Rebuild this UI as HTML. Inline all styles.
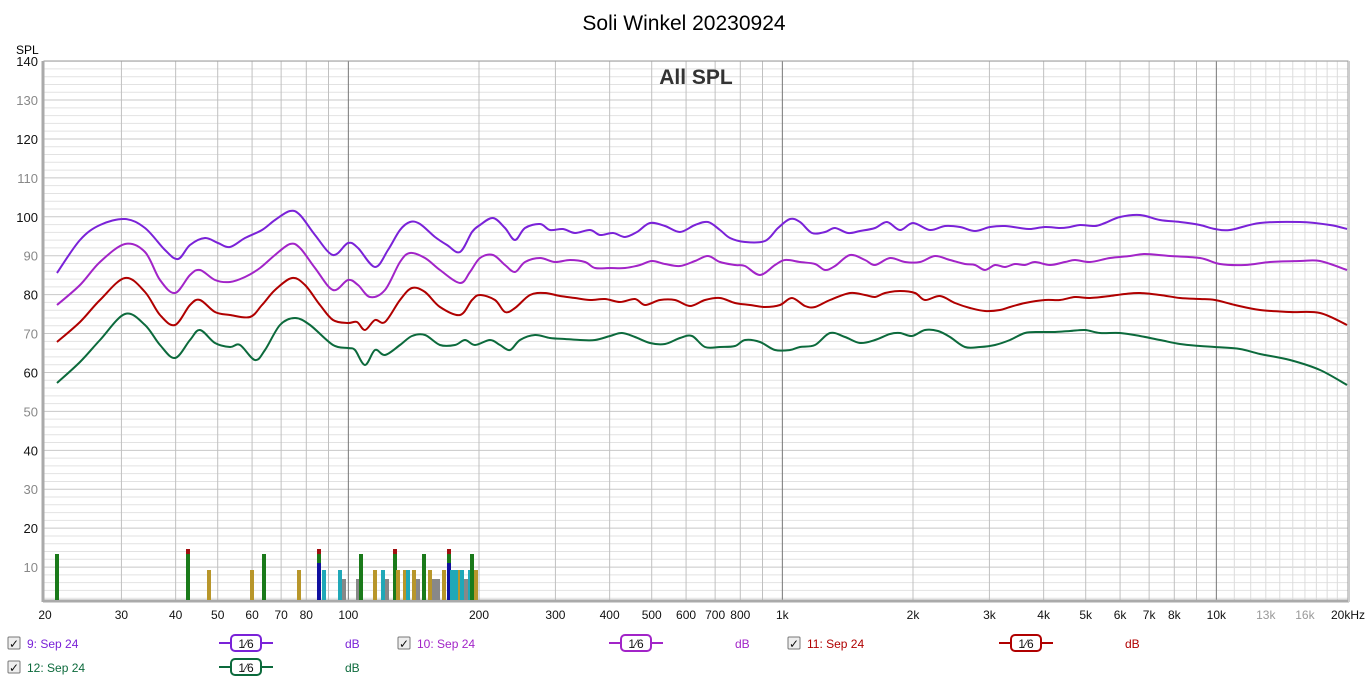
<!DOCTYPE html>
<html><head><meta charset="utf-8"><style>
body{margin:0;background:#fff;width:1369px;height:682px;overflow:hidden;font-family:"Liberation Sans",sans-serif}
svg{position:absolute;left:0;top:0}
</style></head><body>
<svg id="s" width="1369" height="682" xmlns="http://www.w3.org/2000/svg" font-family="Liberation Sans, sans-serif">
<text x="684" y="30" font-size="21" text-anchor="middle">Soli Winkel 20230924</text>
<text x="16" y="54" font-size="12">SPL</text>
<g id="grid"></g>
<text x="696" y="84" font-size="21" font-weight="bold" fill="#333" text-anchor="middle">All SPL</text>
<g id="bars"></g>
<g id="curves" fill="none" stroke-width="2" stroke-linejoin="round"></g>
<g id="legend" font-size="12"></g>
</svg>
<script>
const NS="http://www.w3.org/2000/svg";
function el(p,t,a,txt){const e=document.createElementNS(NS,t);for(const k in a)e.setAttribute(k,a[k]);if(txt!==undefined)e.textContent=txt;p.appendChild(e);return e;}
const X=f=>45+434*Math.log10(f/20), Y=d=>606-3.892*d;
const L=44,R=1348,T=61,B=600;
const g=document.getElementById('grid');
el(g,'rect',{x:L,y:T,width:R-L,height:B-T,fill:'#fff'});
for(let d=2;d<=140;d+=2){const y=Y(d);if(y>B)continue;el(g,'line',{x1:L,x2:R,y1:y,y2:y,stroke:d%10?'#e2e2e2':'#c8c8c8','stroke-width':1});}
const fr=[30,40,50,60,70,80,90,200,300,400,500,600,700,800,900,2000,3000,4000,5000,6000,7000,8000,9000];
fr.forEach(f=>{const x=X(f);el(g,'line',{x1:x,x2:x,y1:T,y2:B,stroke:'#c0c0c0'});});
[11000,12000,13000,14000,15000,16000,17000,18000,19000].forEach(f=>{const x=X(f);el(g,'line',{x1:x,x2:x,y1:T,y2:B,stroke:'#dcdcdc'});});
[100,1000,10000].forEach(f=>{const x=X(f);el(g,'line',{x1:x,x2:x,y1:T,y2:B,stroke:'#777'});});
el(g,'rect',{x:L,y:T,width:R-L,height:B-T,fill:'none',stroke:'#999'});
el(g,'line',{x1:L-1,x2:L-1,y1:T,y2:B+2,stroke:'#aaa','stroke-width':3});
el(g,'line',{x1:L-1,x2:R+1,y1:B+1,y2:B+1,stroke:'#aaa','stroke-width':3});
el(g,'line',{x1:R+1,x2:R+1,y1:T,y2:B+2,stroke:'#ccc','stroke-width':2});
for(let d=10;d<=140;d+=10){el(g,'text',{x:38,y:Y(d)+5,'font-size':13,'text-anchor':'end',fill:(d%20==0)?'#111':'#888'},String(d));}
const xl=[[20,'20'],[30,'30'],[40,'40'],[50,'50'],[60,'60'],[70,'70'],[80,'80'],[100,'100'],[200,'200'],[300,'300'],[400,'400'],[500,'500'],[600,'600'],[700,'700'],[800,'800'],[1000,'1k'],[2000,'2k'],[3000,'3k'],[4000,'4k'],[5000,'5k'],[6000,'6k'],[7000,'7k'],[8000,'8k'],[10000,'10k'],[13000,'13k',1],[16000,'16k',1]];
xl.forEach(a=>el(g,'text',{x:X(a[0]),y:619,'font-size':12,'text-anchor':'middle',fill:a[2]?'#999':'#111'},a[1]));
el(g,'text',{x:1365,y:619,'font-size':12,'text-anchor':'end',fill:'#111'},'20kHz');
// bars
const b=document.getElementById('bars');
const bars=[[57,554,'#1a7a1a'],[188,549,'#1a7a1a',1],[209,570,'#b8962a'],[252,570,'#b8962a'],[264,554,'#1a7a1a'],[299,570,'#b8962a'],[319,549,'#1a7a1a',1,'#1010a0'],[324,570,'#20a8b8'],[340,570,'#20a8b8'],[344,579,'#888'],[358,579,'#888'],[361,570,'#20a8b8'],[361,554,'#1a7a1a'],[375,570,'#b8962a'],[383,570,'#20a8b8'],[387,579,'#888'],[395,549,'#1a7a1a',1],[398,570,'#b8962a'],[405,570,'#b8962a'],[408,570,'#20a8b8'],[414,570,'#b8962a'],[418,579,'#888'],[424,554,'#1a7a1a'],[430,570,'#b8962a'],[434,579,'#888'],[438,579,'#888'],[444,570,'#b8962a'],[449,549,'#1a7a1a',1,'#1010a0'],[452,570,'#20a8b8'],[456,570,'#20a8b8'],[460,570,'#b8962a'],[462,570,'#20a8b8'],[466,579,'#888'],[470,570,'#20a8b8'],[472,554,'#1a7a1a'],[476,570,'#b8962a']];
bars.forEach(a=>{el(b,'rect',{x:a[0]-2,y:a[1],width:4,height:B-a[1],fill:a[2]});if(a[3])el(b,'rect',{x:a[0]-2,y:a[1],width:4,height:5,fill:'#a01010'});if(a[4])el(b,'rect',{x:a[0]-2,y:563,width:4,height:B-563,fill:a[4]});});
// curves
const C={
'#7a22d8':[[57,273],[80,240],[100,225],[125,219],[145,228],[165,250],[178,259],[190,245],[205,238],[218,243],[230,247],[245,238],[262,230],[275,220],[290,211],[300,215],[315,235],[333,255],[348,243],[358,248],[375,267],[388,250],[400,230],[410,222],[420,224],[435,237],[447,245],[460,252],[472,232],[480,225],[493,218],[505,228],[515,240],[525,228],[540,224],[550,230],[563,229],[575,233],[590,230],[600,235],[613,233],[625,237],[637,232],[650,223],[665,226],[680,232],[695,225],[708,222],[720,230],[730,238],[745,242],[765,241],[778,228],[790,219],[800,222],[812,233],[825,232],[835,228],[848,233],[860,231],[875,228],[887,222],[900,230],[913,223],[930,230],[945,226],[960,227],[975,231],[990,227],[1005,226],[1020,228],[1030,229],[1045,227],[1060,228],[1070,227],[1080,225],[1095,226],[1105,223],[1120,217],[1140,215],[1160,220],[1180,222],[1200,225],[1215,229],[1230,230],[1260,223],[1300,222],[1330,225],[1347,229]],
'#a224c8':[[57,305],[80,285],[100,262],[125,244],[145,252],[160,280],[175,293],[190,275],[200,270],[215,280],[230,282],[245,277],[260,268],[275,255],[290,244],[300,248],[315,268],[333,290],[348,280],[358,285],[370,297],[385,290],[400,262],[410,253],[425,258],[440,270],[460,283],[470,272],[480,258],[493,255],[505,265],[515,272],[525,262],[540,258],[555,262],[570,260],[585,262],[595,268],[610,268],[625,268],[640,265],[652,261],[665,264],[680,266],[695,261],[708,256],[720,262],[735,265],[745,266],[760,275],[775,265],[785,260],[800,262],[815,264],[825,270],[835,266],[850,255],[865,260],[875,265],[890,258],[905,262],[920,262],[935,256],[950,260],[965,264],[975,265],[985,270],[995,265],[1005,267],[1015,264],[1025,265],[1035,262],[1050,265],[1065,262],[1075,260],[1090,262],[1110,258],[1130,256],[1145,254],[1170,256],[1200,258],[1220,264],[1245,265],[1270,262],[1300,261],[1320,261],[1347,270]],
'#b00000':[[57,342],[80,322],[100,300],[125,278],[145,292],[160,315],[175,325],[190,305],[200,300],[215,312],[230,315],[250,317],[262,305],[275,290],[292,278],[305,285],[320,305],[333,320],[348,323],[357,322],[365,330],[375,320],[385,322],[400,300],[412,288],[425,292],[440,307],[460,315],[472,300],[480,295],[495,300],[505,312],[515,308],[530,295],[545,293],[560,296],[575,298],[590,300],[605,299],[620,302],[635,299],[645,305],[660,300],[675,300],[690,306],[705,300],[720,298],[735,303],[750,305],[765,307],[780,305],[792,298],[805,306],[815,307],[830,300],[850,293],[865,295],[875,297],[885,293],[900,291],[915,293],[925,300],[940,296],[955,303],[970,308],[985,311],[1000,310],[1010,307],[1025,303],[1045,300],[1060,300],[1075,297],[1090,298],[1110,296],[1125,294],[1140,293],[1160,295],[1180,298],[1200,299],[1215,300],[1235,305],[1260,310],[1290,312],[1320,313],[1347,325]],
'#0c6a3c':[[57,383],[80,362],[100,340],[125,314],[145,325],[160,345],[175,358],[190,340],[200,330],[215,343],[230,347],[240,345],[255,360],[265,350],[280,325],[295,318],[310,325],[333,345],[348,348],[355,350],[365,365],[375,350],[385,355],[400,345],[412,336],[425,335],[440,345],[455,345],[465,340],[475,345],[490,340],[500,345],[510,350],[520,340],[535,335],[550,338],[565,339],[580,340],[595,340],[610,336],[622,333],[635,337],[650,343],[665,344],[680,338],[692,336],[705,347],[720,347],[735,346],[745,340],[760,342],[775,350],[790,350],[800,347],[815,345],[830,333],[845,337],[860,343],[875,340],[890,334],[900,333],[912,336],[925,330],[938,331],[950,337],[965,347],[980,347],[995,345],[1010,340],[1025,333],[1040,332],[1055,332],[1070,331],[1085,330],[1100,333],[1120,333],[1140,336],[1160,340],[1180,344],[1200,346],[1215,347],[1240,349],[1260,354],[1290,360],[1320,370],[1347,385]]};
const cg=document.getElementById('curves');
for(const col in C){const p=C[col];let d='M'+p[0][0]+','+p[0][1];
for(let i=0;i<p.length-1;i++){const p0=p[Math.max(i-1,0)],p1=p[i],p2=p[i+1],p3=p[Math.min(i+2,p.length-1)];
const c1=[p1[0]+(p2[0]-p0[0])/6,p1[1]+(p2[1]-p0[1])/6],c2=[p2[0]-(p3[0]-p1[0])/6,p2[1]-(p3[1]-p1[1])/6];
d+=`C${c1[0].toFixed(1)},${c1[1].toFixed(1)} ${c2[0].toFixed(1)},${c2[1].toFixed(1)} ${p2[0]},${p2[1]}`;}
el(cg,'path',{d:d,stroke:col});}
// legend
const lg=document.getElementById('legend');
function item(x,y,name,col,lx,dx){
 el(lg,'rect',{x:x,y:y-6,width:12,height:12,fill:'#eee',stroke:'#777',rx:1});
 el(lg,'text',{x:x+1,y:y+5,'font-size':12,fill:'#111'},'✓');
 el(lg,'text',{x:x+19,y:y+5,fill:col},name);
 el(lg,'line',{x1:lx,x2:lx+54,y1:y,y2:y,stroke:col,'stroke-width':2});
 el(lg,'rect',{x:lx+12,y:y-8,width:30,height:16,rx:4,fill:'#fff',stroke:col,'stroke-width':2});
 el(lg,'text',{x:lx+27,y:y+5,'text-anchor':'middle','font-size':12,fill:'#111'},'1⁄6');
 el(lg,'text',{x:dx,y:y+5,fill:col},'dB');
}
item(8,643,'9: Sep 24','#7a22d8',219,345);
item(398,643,'10: Sep 24','#a224c8',609,735);
item(788,643,'11: Sep 24','#b00000',999,1125);
item(8,667,'12: Sep 24','#0c6a3c',219,345);
</script>
</body></html>
